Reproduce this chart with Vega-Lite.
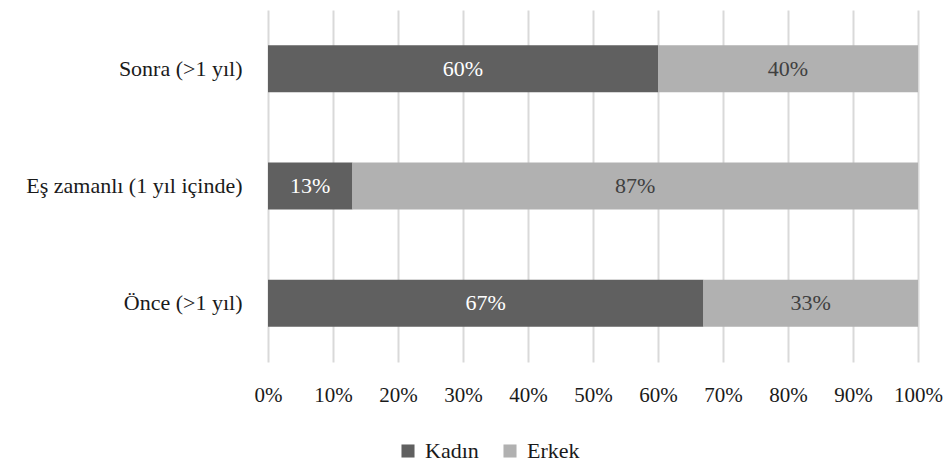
{
  "$schema": "https://vega.github.io/schema/vega-lite/v6.json",
  "width": 650,
  "height": 352,
  "autosize": {"type": "none"},
  "padding": {"left": 268, "top": 10, "right": 33, "bottom": 102},
  "background": "white",
  "config": {
    "view": {"stroke": null},
    "font": "Liberation Serif"
  },
  "data": {
    "values": [
      {"donem": "Sonra (>1 yıl)", "cinsiyet": "Kadın", "pay": 0.60},
      {"donem": "Sonra (>1 yıl)", "cinsiyet": "Erkek", "pay": 0.40},
      {"donem": "Eş zamanlı (1 yıl içinde)", "cinsiyet": "Kadın", "pay": 0.13},
      {"donem": "Eş zamanlı (1 yıl içinde)", "cinsiyet": "Erkek", "pay": 0.87},
      {"donem": "Önce (>1 yıl)", "cinsiyet": "Kadın", "pay": 0.67},
      {"donem": "Önce (>1 yıl)", "cinsiyet": "Erkek", "pay": 0.33}
    ]
  },
  "encoding": {
    "y": {
      "field": "donem",
      "type": "nominal",
      "sort": ["Sonra (>1 yıl)", "Eş zamanlı (1 yıl içinde)", "Önce (>1 yıl)"],
      "title": null,
      "scale": {"paddingInner": 0.6, "paddingOuter": 0.3},
      "axis": {
        "domain": false,
        "ticks": false,
        "labelPadding": 26,
        "labelFont": "Liberation Serif",
        "labelFontSize": 22,
        "labelColor": "#1a1a1a",
        "labelLimit": 400
      }
    },
    "order": {"field": "cinsiyet", "sort": "descending"}
  },
  "layer": [
    {
      "mark": {"type": "bar"},
      "encoding": {
        "x": {
          "field": "pay",
          "type": "quantitative",
          "stack": "zero",
          "scale": {"domain": [0, 1], "nice": false},
          "title": null,
          "axis": {
            "values": [0, 0.1, 0.2, 0.3, 0.4, 0.5, 0.6, 0.7, 0.8, 0.9, 1],
            "format": ".0%",
            "domain": false,
            "ticks": false,
            "grid": true,
            "gridColor": "#d9d9d9",
            "gridWidth": 2,
            "labelPadding": 22,
            "labelFont": "Liberation Serif",
            "labelFontSize": 21,
            "labelColor": "#1a1a1a",
            "labelFlush": false,
            "labelOverlap": false,
            "labelBound": false
          }
        },
        "color": {
          "field": "cinsiyet",
          "type": "nominal",
          "scale": {"domain": ["Kadın", "Erkek"], "range": ["#606060", "#b1b1b1"]},
          "legend": {
            "title": null,
            "orient": "none",
            "legendX": 129,
            "legendY": 430,
            "direction": "horizontal",
            "symbolType": "square",
            "symbolSize": 170,
            "symbolStrokeWidth": 0,
            "labelFont": "Liberation Serif",
            "labelFontSize": 22,
            "labelColor": "#1a1a1a",
            "labelOffset": 6,
            "columnPadding": 20
          }
        }
      }
    },
    {
      "mark": {"type": "text", "baseline": "middle", "align": "center", "fontSize": 22, "font": "Liberation Serif"},
      "encoding": {
        "x": {"field": "pay", "type": "quantitative", "stack": "zero", "bandPosition": 0.5},
        "detail": {"field": "cinsiyet"},
        "text": {"field": "pay", "type": "quantitative", "format": ".0%"},
        "color": {
          "condition": {"test": "datum.cinsiyet === 'Kadın'", "value": "#ffffff"},
          "value": "#404040"
        }
      }
    }
  ]
}
